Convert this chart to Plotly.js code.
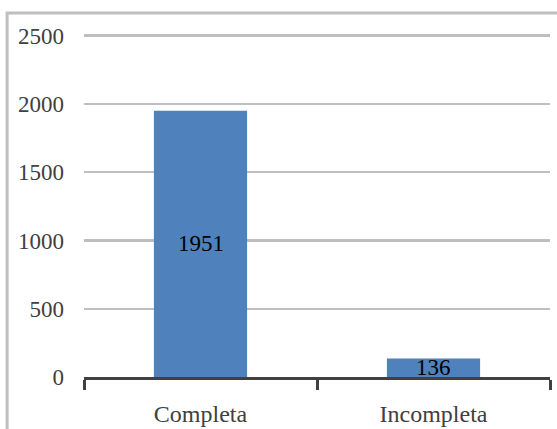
<!DOCTYPE html>
<html>
<head>
<meta charset="utf-8">
<script src="https://cdn.plot.ly/plotly-3.0.1.min.js"></script>
<style>
html,body{margin:0;padding:0;background:#fff;}
#chart{width:557px;height:429px;}
</style>
</head>
<body>
<div id="chart"></div>
<script>
const categories = ["Completa", "Incompleta"];
const values = [1951, 136];
const yTicks = [0, 500, 1000, 1500, 2000, 2500];

const serif = "Liberation Serif";

const trace = {
  type: "bar",
  x: categories,
  y: values,
  marker: {color: "#4F81BD"},
  hoverinfo: "none"
};

const annotations = categories.map((c, i) => ({
  x: c,
  y: values[i] / 2,
  xref: "x",
  yref: "y",
  text: String(values[i]),
  showarrow: false,
  font: {family: serif, size: 23, color: "#000000"}
}));

const layout = {
  width: 557,
  height: 429,
  margin: {l: 84, r: 7, t: 33, b: 52},
  paper_bgcolor: "#ffffff",
  plot_bgcolor: "#ffffff",
  showlegend: false,
  bargap: 0.6,
  font: {family: serif, size: 23, color: "#404040"},
  xaxis: {
    type: "category",
    showline: true,
    linecolor: "#404040",
    linewidth: 3,
    ticks: "outside",
    tickson: "boundaries",
    ticklen: 10,
    tickwidth: 3,
    tickcolor: "#404040",
    showgrid: false,
    zeroline: false,
    ticklabelstandoff: 13,
    tickfont: {family: serif, size: 24, color: "#404040"}
  },
  yaxis: {
    range: [0, 2520],
    tickvals: yTicks,
    ticktext: yTicks.map(String),
    showline: false,
    showgrid: true,
    gridcolor: "#BFBFBF",
    gridwidth: 2.5,
    zeroline: false,
    ticks: "",
    ticklabelstandoff: 19,
    tickfont: {family: serif, size: 23, color: "#404040"}
  },
  annotations: annotations,
  shapes: [{
    type: "rect",
    xref: "paper",
    yref: "paper",
    x0: -0.165,
    x1: 1.03,
    y0: -0.17,
    y1: 1.058,
    line: {color: "#BFBFBF", width: 3},
    fillcolor: "rgba(0,0,0,0)",
    layer: "below"
  }]
};

Plotly.newPlot("chart", [trace], layout, {displayModeBar: false, staticPlot: true});
</script>
</body>
</html>
